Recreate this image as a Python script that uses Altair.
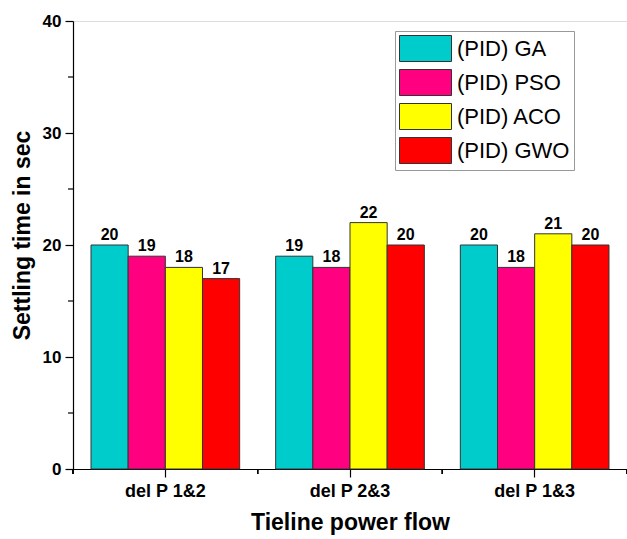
import altair as alt
import pandas as pd

categories = ["del P 1&2", "del P 2&3", "del P 1&3"]
series = ["(PID) GA", "(PID) PSO", "(PID) ACO", "(PID) GWO"]
ga = [20, 19, 20]
pso = [19, 18, 18]
aco = [18, 22, 21]
gwo = [17, 20, 20]
colors = ["#00CCCC", "#FF0080", "#FFFF00", "#FF0000"]
y_major = [0, 10, 20, 30, 40]
y_minor = [5, 15, 25, 35]

rows = []
for s, vals in zip(series, [ga, pso, aco, gwo]):
    for c, v in zip(categories, vals):
        rows.append({"cat": c, "series": s, "value": v})
df = pd.DataFrame(rows)

W, H = 554, 448
FONT = "Liberation Sans"

x_enc = alt.X("cat:N", sort=categories,
              scale=alt.Scale(paddingInner=0.195, paddingOuter=0.0975),
              axis=alt.Axis(title="Tieline power flow", labelAngle=0,
                            labelFont=FONT, labelFontSize=18, labelFontWeight="bold",
                            labelColor="black", labelPadding=5,
                            titleFont=FONT, titleFontSize=23, titleFontWeight="bold",
                            titleColor="black", titlePadding=11,
                            domainColor="black", tickColor="black", tickSize=8,
                            domainWidth=1.2, tickWidth=1.2))
y_scale = alt.Scale(domain=[0, 40], nice=False)
y_enc = alt.Y("value:Q", scale=y_scale,
              axis=alt.Axis(title="Settling time in sec", values=y_major, grid=False,
                            labelFont=FONT, labelFontSize=17, labelFontWeight="bold",
                            labelColor="black", labelPadding=4,
                            titleFont=FONT, titleFontSize=23, titleFontWeight="bold",
                            titleColor="black", titlePadding=8, titleY=214,
                            domainColor="black", tickColor="black", tickSize=8,
                            domainWidth=1.2, tickWidth=1.2))
xoff = alt.XOffset("series:N", sort=series, scale=alt.Scale(paddingInner=0, paddingOuter=0))

legend = alt.Legend(title=None, orient="none", legendX=322, legendY=10,
                    strokeColor="#999999", fillColor="white", padding=4,
                    symbolType="M-2,-1H2V1H-2Z", symbolSize=676, symbolOffset=13,
                    symbolStrokeColor="#333333", symbolStrokeWidth=1, symbolOpacity=1,
                    labelFont=FONT, labelFontSize=22, labelColor="black",
                    labelOffset=18, rowPadding=3, labelLimit=300)

bars = alt.Chart(df).mark_bar(stroke="#333333", strokeWidth=1).encode(
    x=x_enc, xOffset=xoff, y=y_enc,
    color=alt.Color("series:N", sort=series,
                    scale=alt.Scale(domain=series, range=colors), legend=legend),
)

labels = alt.Chart(df).mark_text(font=FONT, fontSize=16, fontWeight="bold",
                                 baseline="bottom", dy=-2, color="black").encode(
    x=alt.X("cat:N", sort=categories), xOffset=xoff, y=alt.Y("value:Q"),
    text=alt.Text("value:Q"),
)

minor_df = pd.DataFrame({"value": y_minor})
minor_y = alt.Chart(minor_df).mark_rule(color="black", strokeWidth=1.2).encode(
    y=alt.Y("value:Q"),
    x=alt.value(-5), x2=alt.value(0),
)

step = W / 3.0
minor_x_layers = [
    alt.Chart(minor_df).mark_rule(color="black", strokeWidth=1.2).encode(
        x=alt.value(i * step), y=alt.value(H), y2=alt.value(H + 5))
    for i in range(4)
]

chart = alt.layer(bars, labels, minor_y, *minor_x_layers).properties(
    width=W, height=H,
    autosize=alt.AutoSizeParams(type="none"),
    padding={"left": 73, "top": 21, "right": 0, "bottom": 70},
).configure_view(stroke=None).configure(background="white")

chart.save("out.html", embed_options={"renderer": "svg", "actions": False})
